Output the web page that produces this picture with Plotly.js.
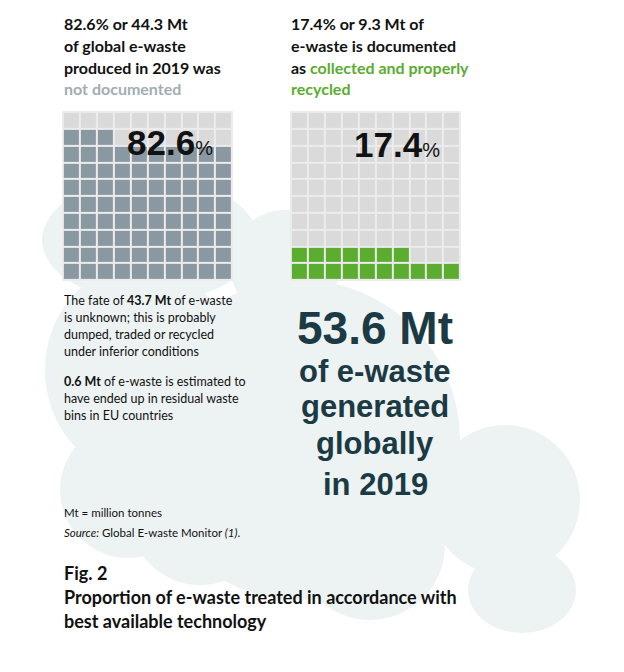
<!DOCTYPE html>
<html>
<head>
<meta charset="utf-8">
<script src="https://cdn.plot.ly/plotly-3.0.1.min.js"></script>
<style>html,body{margin:0;padding:0;background:#fff;}#chart{width:624px;height:672px;}</style>
</head>
<body>
<div id="chart"></div>
<script>
// ---- data ----
const year = 2019;
const totalMt = 53.6;
const notDocumentedPct = 82.6;
const notDocumentedMt = 44.3;
const recycledPct = 17.4;
const recycledMt = 9.3;
const unknownFateMt = 43.7;
const residualBinsMt = 0.6;
const gridCols = [0,1,2,3,4,5,6,7,8,9];
const gridRows = [0,1,2,3,4,5,6,7,8,9];

// ---- helpers ----
const W = 624, H = 672;
const px = x => x / W;
const py = y => 1 - y / H;
const NARROW = "Lato, 'Liberation Sans', sans-serif";
const SANS = "'Liberation Sans', Arial, sans-serif";
const BIG = "'Liberation Sans', Arial, sans-serif";
const INK = '#111111';
const GREY_TXT = '#a2adb3';
const GREEN = '#5aad2e';
const FILL_GREY = '#8a99a1';
const EMPTY = '#dadada';
const GAP = '#ececec';
const TEAL = '#1c3a44';
const CLOUD = '#edf3f3';

function waffle(pct) {
  const n = Math.round(pct);
  return gridRows.map(r => gridCols.map(c => (r * gridCols.length + c) < n ? 1 : 0));
}

const annotations = [];
function ann(text, x, baseline, size, family, color, opts) {
  const k = family === NARROW ? 0.387 : 0.347;
  annotations.push(Object.assign({
    xref: 'paper', yref: 'paper', x: px(x), y: py(baseline - k * size),
    xanchor: 'left', yanchor: 'middle', align: 'left', showarrow: false,
    borderpad: 0, text: text,
    font: {family: family, size: size, color: color}
  }, opts || {}));
}

// headings
const headL = [
  `<b>${notDocumentedPct}% or ${notDocumentedMt} Mt</b>`,
  `<b>of global e-waste</b>`,
  `<b>produced in ${year} was</b>`,
  `<b><span style="color:${GREY_TXT}">not documented</span></b>`
];
const headR = [
  `<b>${recycledPct}% or ${recycledMt} Mt of</b>`,
  `<b>e-waste is documented</b>`,
  `<b>as <span style="color:${GREEN}">collected and properly</span></b>`,
  `<b><span style="color:${GREEN}">recycled</span></b>`
];
const headBase = [30, 52, 74, 95];
headL.forEach((t, i) => ann(t, 63, headBase[i], 16, NARROW, INK));
headR.forEach((t, i) => ann(t, 290, headBase[i], 16, NARROW, INK));

// big percentages on the grids
ann(`<b>${notDocumentedPct}</b><span style="font-size:20px">%</span>`, 126, 155, 35, SANS, INK);
ann(`<b>${recycledPct}</b><span style="font-size:20px">%</span>`, 353, 157, 35, SANS, INK);

// body text
const body1 = [
  `The fate of <b>${unknownFateMt} Mt</b> of e-waste`,
  `is unknown; this is probably`,
  `dumped, traded or recycled`,
  `under inferior conditions`
];
[305, 322, 339, 356].forEach((b, i) => ann(body1[i], 63, b, 12.5, NARROW, INK));
const body2 = [
  `<b>${residualBinsMt} Mt</b> of e-waste is estimated to`,
  `have ended up in residual waste`,
  `bins in EU countries`
];
[386, 403, 420].forEach((b, i) => ann(body2[i], 63, b, 12.5, NARROW, INK));

ann(`Mt = million tonnes`, 63, 517, 11.5, NARROW, INK);
ann(`<i>Source:</i> Global E-waste Monitor <i>(1)</i>.`, 63, 537, 11.5, NARROW, INK);

ann(`<b>Fig. 2</b>`, 63, 580, 18, NARROW, INK);
ann(`<b>Proportion of e-waste treated in accordance with</b>`, 63, 604, 18, NARROW, INK);
ann(`<b>best available technology</b>`, 63, 628, 18, NARROW, INK);

// big centre statement
const bigLines = [`<b>${totalMt} Mt</b>`, `<b>of e-waste</b>`, `<b>generated</b>`, `<b>globally</b>`, `<b>in ${year}</b>`];
const bigSize = [46, 31, 31, 31, 31];
const bigBase = [344, 382, 417, 454, 495];
bigLines.forEach((t, i) => ann(t, 375, bigBase[i], bigSize[i], BIG, TEAL, {xanchor: 'center', align: 'center'}));

// cloud background (decoration)
const cloud = [
  [42, 178, 258, 302],
  [230, 210, 340, 320],
  [140, 280, 460, 600],
  [45, 265, 235, 475],
  [60, 422, 196, 558],
  [130, 445, 270, 585],
  [295, 470, 445, 620],
  [430, 425, 580, 575],
  [468, 547, 576, 633]
];
const shapes = cloud.map(c => ({
  type: 'circle', xref: 'paper', yref: 'paper', layer: 'below',
  x0: px(c[0]), x1: px(c[2]), y0: py(c[3]), y1: py(c[1]),
  fillcolor: CLOUD, line: {width: 0}
}));
['', '2'].forEach(s => shapes.push({
  type: 'rect', xref: 'x' + s, yref: 'y' + s, layer: 'below',
  x0: -0.55, x1: 9.55, y0: -0.55, y1: 9.55, fillcolor: GAP, line: {width: 0}
}));

const traces = [
  {type: 'heatmap', z: waffle(notDocumentedPct), x: gridCols, y: gridRows, xaxis: 'x', yaxis: 'y',
   colorscale: [[0, EMPTY], [0.5, EMPTY], [0.5, FILL_GREY], [1, FILL_GREY]], zmin: 0, zmax: 1,
   showscale: false, xgap: 2, ygap: 2, hoverinfo: 'skip'},
  {type: 'heatmap', z: waffle(recycledPct), x: gridCols, y: gridRows, xaxis: 'x2', yaxis: 'y2',
   colorscale: [[0, EMPTY], [0.5, EMPTY], [0.5, GREEN], [1, GREEN]], zmin: 0, zmax: 1,
   showscale: false, xgap: 2, ygap: 2, hoverinfo: 'skip'}
];

const ax = (dom, anchor) => ({domain: dom, anchor: anchor, range: [-0.55, 9.55], visible: false, fixedrange: true});
const layout = {
  width: W, height: H,
  margin: {l: 0, r: 0, t: 0, b: 0},
  paper_bgcolor: '#ffffff', plot_bgcolor: 'rgba(0,0,0,0)',
  showlegend: false,
  xaxis: ax([px(62), px(233)], 'y'),
  yaxis: ax([py(281), py(111)], 'x'),
  xaxis2: ax([px(290), px(461)], 'y2'),
  yaxis2: ax([py(281), py(111)], 'x2'),
  shapes: shapes,
  annotations: annotations
};
Plotly.newPlot('chart', traces, layout, {staticPlot: true, displayModeBar: false});
</script>
</body>
</html>
